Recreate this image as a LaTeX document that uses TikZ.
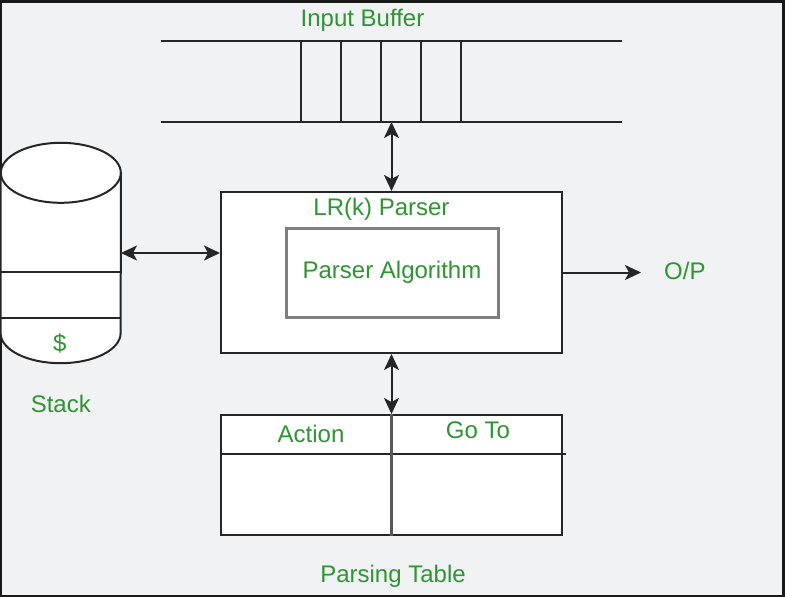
\documentclass[tikz,border=0pt]{standalone}
\usepackage{fontspec}
\setmainfont{Liberation Sans}
\usepackage{xcolor}
\usepackage{tikz}
\usetikzlibrary{arrows.meta,positioning,calc}
\definecolor{ggreen}{HTML}{2F9434}
\definecolor{edge}{HTML}{262626}
\definecolor{algogray}{HTML}{7F7F7F}
\definecolor{paper}{HTML}{F1F2F4}
\definecolor{frame}{HTML}{1A1A1A}
\tikzset{
  blockbox/.style={
    rectangle, draw=edge, fill=white, line width=2pt,
    minimum width=341pt, inner sep=0pt
  },
  algobox/.style={
    rectangle, draw=algogray, fill=white, line width=3pt,
    minimum width=212pt, minimum height=89pt, inner sep=0pt
  },
  holder/.style={
    rectangle, draw=none, inner sep=0pt
  },
  dataarrow/.style={
    >={Stealth[length=16pt,width=15pt,inset=4pt]}, <->,
    draw=edge, line width=2pt
  },
  outarrow/.style={
    >={Stealth[length=16pt,width=15pt,inset=4pt]}, ->,
    draw=edge, line width=2pt
  },
  edgeline/.style={
    draw=edge, line width=2pt
  },
  labeltext/.style={
    font=\fontsize{24}{28}\selectfont, text=ggreen, inner sep=0pt
  },
}
\begin{document}
\begin{tikzpicture}[x=1pt, y=-1pt]
  % page
  \fill[frame] (0,0) rectangle (785,597);
  \fill[paper] (1.5,2.5) rectangle (782,595);
  \useasboundingbox (0,0) rectangle (785,597);

  \node[blockbox, minimum height=161pt] (parser) at (391.5,272.5) {};
  \node[algobox] (algo) at ([xshift=0.5pt]parser.center) {};
  \node[labeltext] (lrk) at ([shift={(-10,-63.5)}]parser.center) {LR(k) Parser};
  \node[labeltext] (algotxt) at (algo.center) {Parser Algorithm};

  % input buffer
  \node[holder, above=69pt of parser, minimum width=460pt,
    minimum height=81pt] (buffer) {};
  \draw[edgeline] (buffer.north west) -- (buffer.north east);
  \draw[edgeline] (buffer.south west) -- (buffer.south east);
  \foreach \i in {0,...,4}
    \draw[edgeline] ([xshift=140pt+\i*40pt]buffer.north west)
      -- ([xshift=140pt+\i*40pt]buffer.south west);
  \node[labeltext] (buftxt) at ([shift={(-29,-20)}]buffer.north) {Input Buffer};
  \draw[dataarrow] (buffer.south) -- (buffer.south |- parser.north);

  % parsing table
  \node[blockbox, below=60pt of parser, minimum height=120pt] (table) {};
  \draw[edgeline] ([yshift=-40pt]table.north west) -- ++(346pt,0pt);
  \draw[draw=algogray!70!black, line width=2.2pt] (table.north) -- (table.south);
  \node[labeltext] (action) at ([shift={(91,20)}]table.north west) {Action};
  \node[labeltext] (goto) at ([shift={(-85,16)}]table.north east) {Go To};
  \node[labeltext] (tabtxt) at ([shift={(1.5,40)}]table.south) {Parsing Table};
  \draw[dataarrow] (parser.south) -- (table.north);

  % stack
  \node[holder, left=99pt of parser, yshift=19.5pt, minimum width=120pt,
    minimum height=220pt] (stack) {};
  \filldraw[edgeline, fill=white] ([yshift=-30pt]stack.north west)
    -- ([yshift=30pt]stack.south west)
    arc[start angle=180, end angle=360, x radius=60pt, y radius=30pt]
    -- ([yshift=-30pt]stack.north east);
  \filldraw[edgeline, fill=white] ([yshift=-30pt]stack.north)
    ellipse[x radius=60pt, y radius=30pt];
  \draw[edgeline] ([yshift=-129pt]stack.north west) -- ([yshift=-129pt]stack.north east);
  \draw[edgeline] ([yshift=-175pt]stack.north west) -- ([yshift=-175pt]stack.north east);
  \node[labeltext] (dollar) at ([shift={(-1,-20)}]stack.south) {\$};
  \node[labeltext] (stacktxt) at ([shift={(0,41)}]stack.south) {Stack};
  \draw[dataarrow] (stack.east) -- (stack.east -| parser.west);

  % output
  \node[labeltext, right=101pt of parser, yshift=2pt] (op) {O/P};
  \draw[outarrow] (parser.east) -- ([xshift=-23pt]op.west |- parser.east);
\end{tikzpicture}
\end{document}
